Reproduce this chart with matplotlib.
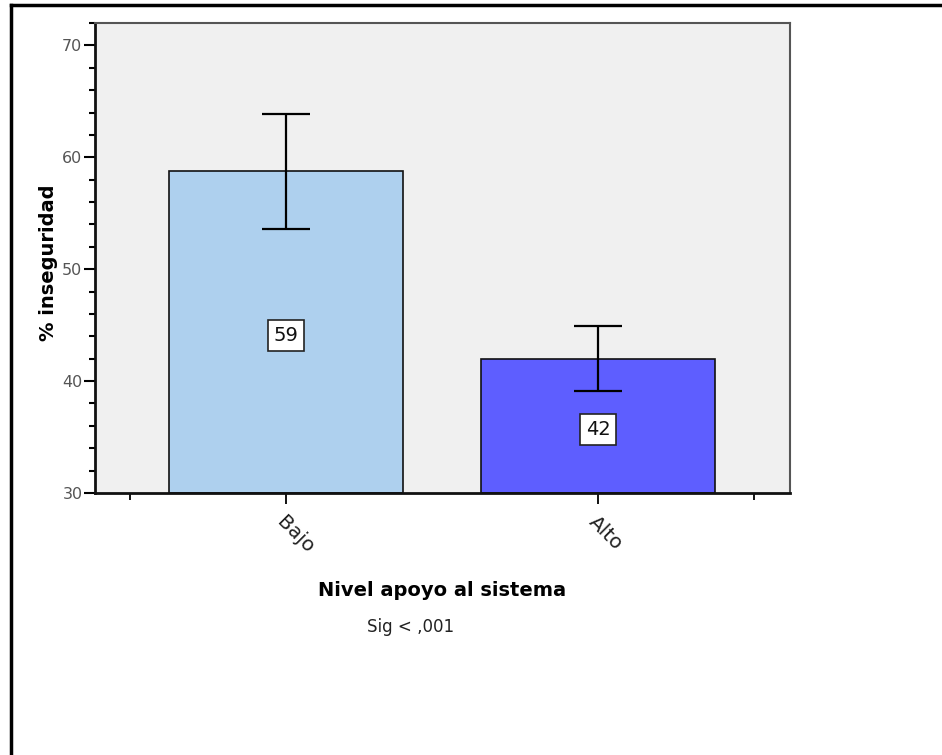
import numpy as np
import matplotlib
matplotlib.use('Agg')
import matplotlib.pyplot as plt
from matplotlib.lines import Line2D
from matplotlib.ticker import MultipleLocator, FixedLocator

# data
categories = ['Bajo', 'Alto']
values = [58.8, 42.0]
ci_low = [53.6, 39.15]
ci_high = [63.9, 44.9]
bar_labels = ['59', '42']
bar_colors = ['#aed0ee', '#5e5eff']

fig = plt.figure(figsize=(9.42, 7.55), dpi=100)
ax = fig.add_axes([0.1008, 0.347, 0.7378, 0.6225])
ax.set_facecolor('#f0f0f0')

x = np.arange(len(categories))
yerr = [np.array(values) - np.array(ci_low), np.array(ci_high) - np.array(values)]
ax.bar(x, np.array(values) - 30, bottom=30, width=0.75, color=bar_colors,
       edgecolor='#111111', linewidth=1.2, zorder=2)
ax.errorbar(x, values, yerr=yerr, fmt='none', ecolor='black', elinewidth=1.6,
            capsize=17, capthick=1.6, zorder=3)

for xi, v, lab in zip(x, values, bar_labels):
    ax.text(xi, (30 + v) / 2 - 0.35, lab, ha='center', va='center', fontsize=14,
            color='#111111', zorder=4,
            bbox=dict(boxstyle='square,pad=0.3', fc='white', ec='#222222', lw=1.2))

ax.set_ylim(30, 72)
ax.set_xlim(-0.612, 1.615)
ax.yaxis.set_major_locator(MultipleLocator(10))
ax.yaxis.set_minor_locator(MultipleLocator(2))
ax.tick_params(axis='y', which='major', length=8, width=1.5, labelsize=11.5,
               labelcolor='#555555', pad=1)
ax.tick_params(axis='y', which='minor', length=4, width=1.5)

ax.set_xticks(x)
ax.set_xticklabels(categories, rotation=-45, ha='left', rotation_mode='anchor',
                   fontsize=14.5, color='#222222')
ax.xaxis.set_minor_locator(FixedLocator([-0.5, 1.5]))
ax.tick_params(axis='x', which='major', length=8, width=1.3, pad=6)
ax.tick_params(axis='x', which='minor', length=5, width=1.3)

for s in ['left', 'bottom']:
    ax.spines[s].set_linewidth(2)
    ax.spines[s].set_color('#111111')
for s in ['top', 'right']:
    ax.spines[s].set_linewidth(1.5)
    ax.spines[s].set_color('#555555')

ax.set_ylabel('% inseguridad', fontsize=14, fontweight='bold')
ax.yaxis.set_label_coords(-0.053, 0.49)
fig.text(0.469, 0.218, 'Nivel apoyo al sistema', ha='center', va='center',
         fontsize=14, fontweight='bold')
fig.text(0.436, 0.169, 'Sig < ,001', ha='center', va='center', fontsize=12,
         color='#222222')

# outer frame (cropped on right and bottom)
fig.add_artist(Line2D([0.0122, 1.0], [0.9934, 0.9934], color='black', lw=2.5,
                      transform=fig.transFigure))
fig.add_artist(Line2D([0.0122, 0.0122], [0.0, 0.9934], color='black', lw=2.5,
                      transform=fig.transFigure))

fig.savefig('out.png', dpi=100)
